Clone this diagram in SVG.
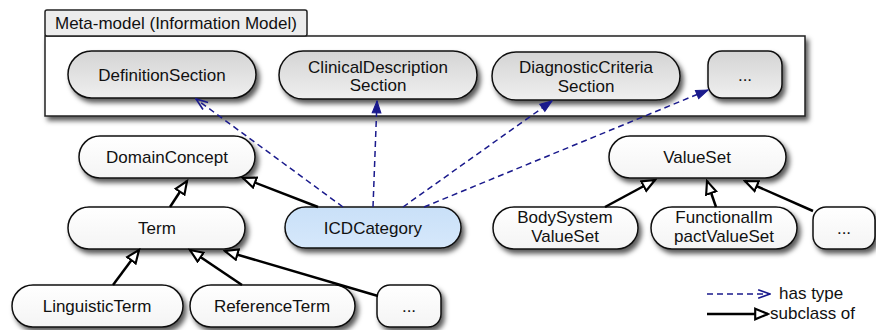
<svg xmlns="http://www.w3.org/2000/svg" width="876" height="330" viewBox="0 0 876 330">
<defs>
  <filter id="sh" x="-10%" y="-20%" width="125%" height="160%">
    <feDropShadow dx="3" dy="4" stdDeviation="2.5" flood-color="#000" flood-opacity="0.65"/>
  </filter>
  <linearGradient id="gGray" x1="0" y1="0" x2="0" y2="1">
    <stop offset="0" stop-color="#d4d4d4"/>
    <stop offset="1" stop-color="#efefef"/>
  </linearGradient>
  <linearGradient id="gWhite" x1="0" y1="0" x2="0" y2="1">
    <stop offset="0" stop-color="#ffffff"/>
    <stop offset="1" stop-color="#f4f4f4"/>
  </linearGradient>
  <linearGradient id="gBlue" x1="0" y1="0" x2="0" y2="1">
    <stop offset="0" stop-color="#c9e0f8"/>
    <stop offset="1" stop-color="#d6e8fb"/>
  </linearGradient>
  <marker id="hollow" markerUnits="userSpaceOnUse" markerWidth="16" markerHeight="14" viewBox="-1 -1 15 12" refX="12" refY="5" orient="auto">
    <path d="M0,0 L12,5 L0,10 Z" fill="#fff" stroke="#000" stroke-width="2"/>
  </marker>
  <marker id="openV" markerUnits="userSpaceOnUse" markerWidth="14" markerHeight="12" viewBox="-1 -1 13 10" refX="11" refY="4" orient="auto">
    <path d="M0,0 L11,4 L0,8" fill="none" stroke="#1a1a8c" stroke-width="1.5"/>
  </marker>
  <marker id="fillV" markerUnits="userSpaceOnUse" markerWidth="14" markerHeight="12" viewBox="-1 -1 13 10" refX="11" refY="4" orient="auto">
    <path d="M0,0 L11,4 L0,8 Z" fill="#1a1a8c" stroke="#1a1a8c" stroke-width="1"/>
  </marker>
</defs>
<style>
  text { font-family: "Liberation Sans", Arial, sans-serif; font-size: 17px; fill: #111; }
  .c { text-anchor: middle; }
  .node { stroke: #111; stroke-width: 1.5; filter: url(#sh); }
  .gray { fill: url(#gGray); }
  .white { fill: url(#gWhite); }
  .blue { fill: url(#gBlue); }
  .sub { stroke: #000; stroke-width: 2.5; fill: none; marker-end: url(#hollow); }
  .type { stroke: #1a1a8c; stroke-width: 1.5; stroke-dasharray: 6 4; fill: none; }
</style>

<g id="meta-model">
  <rect x="45" y="36" width="760" height="80" fill="#fff" stroke="#222" stroke-width="1.5" filter="url(#sh)"/>
  <rect x="45" y="10" width="262" height="26" rx="2" fill="#ececec" stroke="#222" stroke-width="1.5"/>
  <text x="55" y="29">Meta-model (Information Model)</text>
</g>

<g id="DefinitionSection">
  <rect class="node gray" x="68" y="51" width="188" height="47" rx="23.5"/>
  <text class="c" x="162" y="81">DefinitionSection</text>
</g>
<g id="ClinicalDescriptionSection">
  <rect class="node gray" x="279" y="51" width="198" height="48" rx="24"/>
  <text class="c" x="378" y="73">ClinicalDescription</text>
  <text class="c" x="378" y="91">Section</text>
</g>
<g id="DiagnosticCriteriaSection">
  <rect class="node gray" x="492" y="52" width="188" height="48" rx="24"/>
  <text class="c" x="586" y="73">DiagnosticCriteria</text>
  <text class="c" x="586" y="92">Section</text>
</g>
<g id="MetaMore">
  <rect class="node gray" x="708" y="51" width="74" height="47" rx="14"/>
  <text class="c" x="745" y="81">...</text>
</g>

<g id="DomainConcept">
  <rect class="node white" x="79" y="136" width="176" height="42" rx="21"/>
  <text class="c" x="167" y="163">DomainConcept</text>
</g>
<g id="ValueSet">
  <rect class="node white" x="609" y="136" width="177" height="42" rx="21"/>
  <text class="c" x="697" y="163">ValueSet</text>
</g>
<g id="Term">
  <rect class="node white" x="68" y="207" width="177" height="42" rx="21"/>
  <text class="c" x="157" y="234">Term</text>
</g>
<g id="ICDCategory">
  <rect class="node blue" x="285" y="207" width="176" height="41" rx="20.5"/>
  <text class="c" x="373" y="234">ICDCategory</text>
</g>
<g id="BodySystemValueSet">
  <rect class="node white" x="493" y="207" width="145" height="42" rx="21"/>
  <text class="c" x="565" y="223">BodySystem</text>
  <text class="c" x="565" y="242">ValueSet</text>
</g>
<g id="FunctionalImpactValueSet">
  <rect class="node white" x="651" y="207" width="146" height="42" rx="21"/>
  <text class="c" x="724" y="223">FunctionalIm</text>
  <text class="c" x="724" y="242">pactValueSet</text>
</g>
<g id="ValueSetMore">
  <rect class="node white" x="813" y="207" width="62" height="42" rx="13"/>
  <text class="c" x="844" y="234">...</text>
</g>
<g id="LinguisticTerm">
  <rect class="node white" x="12" y="285" width="171" height="42" rx="21"/>
  <text class="c" x="97" y="312">LinguisticTerm</text>
</g>
<g id="ReferenceTerm">
  <rect class="node white" x="190" y="285" width="165" height="42" rx="21"/>
  <text class="c" x="272" y="312">ReferenceTerm</text>
</g>
<g id="TermMore">
  <rect class="node white" x="377" y="285" width="64" height="42" rx="13"/>
  <text class="c" x="409" y="312">...</text>
</g>

<g id="connectors">
  <line class="sub" x1="170" y1="207" x2="187" y2="181"/>
  <line class="sub" x1="318" y1="207" x2="243" y2="178"/>
  <line class="sub" x1="113" y1="285" x2="139" y2="250"/>
  <line class="sub" x1="242" y1="285" x2="190" y2="250"/>
  <line class="sub" x1="378" y1="296" x2="225" y2="251"/>
  <line class="sub" x1="605" y1="207" x2="655" y2="180"/>
  <line class="sub" x1="716" y1="207" x2="707" y2="181"/>
  <line class="sub" x1="813" y1="211" x2="745" y2="181"/>

  <line class="type" x1="343" y1="207" x2="196" y2="99" marker-end="url(#openV)"/>
  <line class="type" x1="373" y1="207" x2="377" y2="101" marker-end="url(#fillV)"/>
  <line class="type" x1="403" y1="207" x2="552" y2="101" marker-end="url(#fillV)"/>
  <line class="type" x1="424" y1="207" x2="708" y2="90" marker-end="url(#fillV)"/>
</g>

<g id="legend">
  <line class="type" x1="707" y1="294" x2="770" y2="294" marker-end="url(#openV)"/>
  <text x="779" y="299">has type</text>
  <line class="sub" x1="707" y1="314" x2="768" y2="314"/>
  <text x="770" y="319">subclass of</text>
</g>
</svg>
